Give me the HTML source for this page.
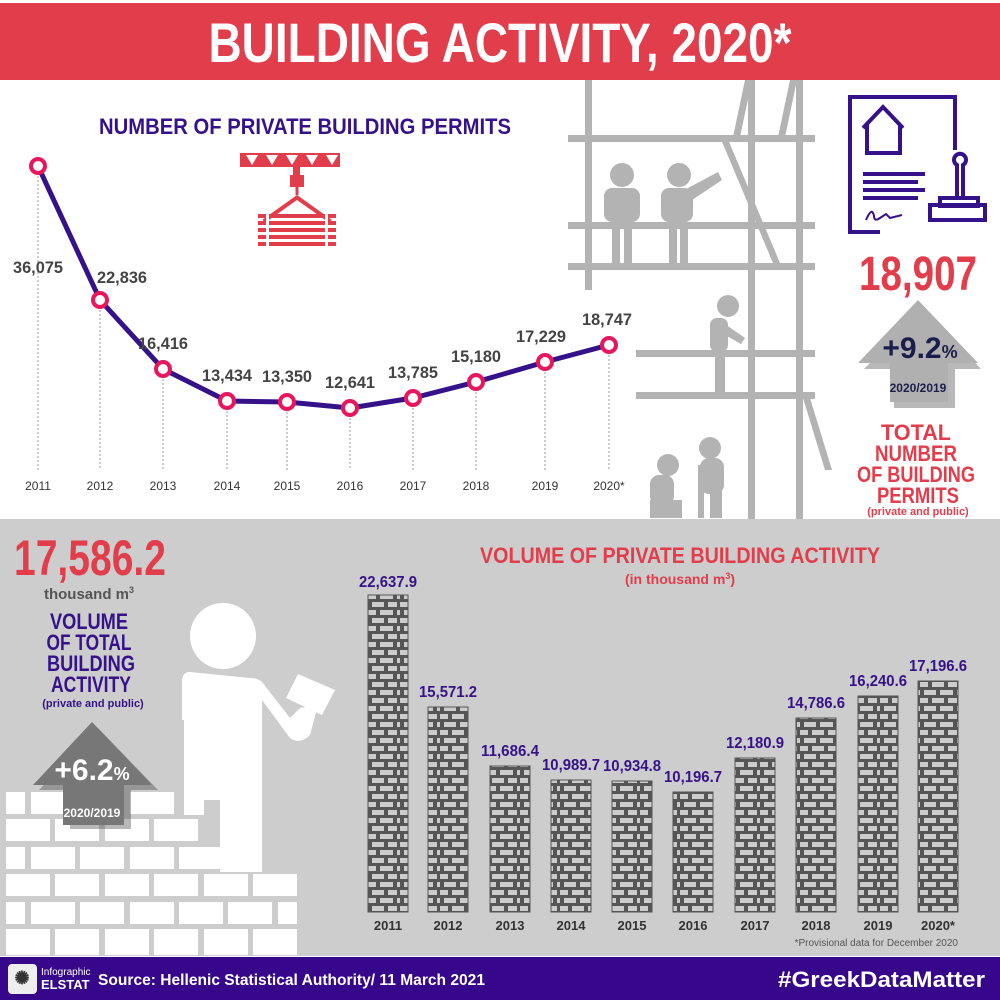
<!DOCTYPE html>
<html><head><meta charset="utf-8"><style>
html,body{margin:0;padding:0;background:#fff}
svg{display:block}
text{font-family:"Liberation Sans Narrow","Liberation Sans",sans-serif;font-weight:bold}
text.n{font-weight:normal}
</style></head><body>
<svg width="1000" height="1000" viewBox="0 0 1000 1000" xmlns="http://www.w3.org/2000/svg">
<defs>
<pattern id="brick" x="0" y="0" width="40" height="16" patternUnits="userSpaceOnUse">
<rect width="40" height="16" fill="#555"/>
<rect x="4" y="2" width="12" height="5" fill="#ccc"/><rect x="20" y="2" width="13" height="5" fill="#ccc"/><rect x="37" y="2" width="3" height="5" fill="#ccc"/>
<rect x="0" y="10" width="8" height="5" fill="#ccc"/><rect x="12" y="10" width="12" height="5" fill="#ccc"/><rect x="28" y="10" width="9" height="5" fill="#ccc"/>
</pattern>
</defs>
<rect width="1000" height="1000" fill="#fff"/>
<rect x="0" y="3" width="1000" height="77" fill="#e23d4b"/>
<text x="500" y="62" font-size="56" fill="#fff" text-anchor="middle" textLength="583" lengthAdjust="spacingAndGlyphs">BUILDING ACTIVITY, 2020*</text>

<g fill="#b3b3b3">
<rect x="585" y="80" width="7" height="210"/>
<rect x="748" y="80" width="7" height="440"/>
<rect x="796" y="80" width="7" height="440"/>
<rect x="568" y="135" width="247" height="7"/>
<rect x="568" y="222" width="247" height="7"/>
<rect x="568" y="263" width="247" height="7"/>
<rect x="636" y="350" width="179" height="7"/>
<rect x="636" y="392" width="179" height="7"/>
<polygon points="720,137 727,137 780,263 773,263"/>
<polygon points="745,80 752,80 740,137 733,137"/>
<polygon points="790,80 797,80 785,137 778,137"/>
<polygon points="803,398 810,398 832,470 825,470"/>
<circle cx="622" cy="175" r="12"/><rect x="604" y="188" width="36" height="34" rx="8"/><rect x="612" y="222" width="8" height="42"/><rect x="624" y="222" width="8" height="42"/>
<circle cx="679" cy="175" r="12"/><rect x="661" y="188" width="32" height="34" rx="8"/><rect x="669" y="222" width="8" height="42"/><rect x="680" y="222" width="8" height="42"/>
<polygon points="688,188 718,172 722,180 692,200"/>
<circle cx="728" cy="306" r="11"/><rect x="710" y="318" width="18" height="34" rx="7"/><polygon points="722,322 745,338 741,344 720,332"/><rect x="715" y="352" width="10" height="42"/>
<circle cx="668" cy="465" r="11"/><rect x="650" y="475" width="24" height="30" rx="9"/><rect x="650" y="500" width="32" height="18"/>
<circle cx="710" cy="448" r="11"/><rect x="700" y="458" width="24" height="36" rx="9"/><rect x="698" y="465" width="6" height="53"/><rect x="710" y="490" width="12" height="28"/>
</g>

<g fill="none" stroke="#36128a" stroke-width="4">
<polyline points="880,232 850,232 850,97 955,97 955,150"/>
<polyline points="863,128 883,107 903,128"/><polyline points="867,124 867,153 900,153 900,124"/>
<rect x="930" y="205" width="55" height="15"/><rect x="940" y="198" width="38" height="8"/>
<path d="M957,198 V165 a6,6 0 1 1 6,0 V198"/>
</g>
<g fill="#36128a"><rect x="863" y="172" width="62" height="4"/><rect x="863" y="180" width="55" height="4"/><rect x="863" y="188" width="62" height="4"/><rect x="863" y="196" width="55" height="4"/>
<path d="M866,220 q6,-14 8,-4 q0,6 6,2 l6,-4 l4,4 l12,-3" stroke="#36128a" stroke-width="2" fill="none"/></g>

<text x="918" y="290" font-size="48" fill="#e23d4b" text-anchor="middle" textLength="118" lengthAdjust="spacingAndGlyphs">18,907</text>
<polygon points="921,305 978,366 952,366 952,405 891,405 891,366 861,366" fill="#333" opacity="0.35" transform="translate(3,3)"/>
<polygon points="918,300 978,363 948,363 948,402 890,402 890,363 858,363" fill="#b0b0b0"/>
<text x="920" y="358" font-size="30" fill="#1c1d4a" text-anchor="middle">+9.2<tspan font-size="18">%</tspan></text>
<text x="918" y="392" font-size="12" fill="#1c1d4a" text-anchor="middle">2020/2019</text>
<g fill="#e23d4b" text-anchor="middle" font-size="22">
<text x="916" y="440" textLength="70" lengthAdjust="spacingAndGlyphs">TOTAL</text><text x="916" y="461" textLength="82" lengthAdjust="spacingAndGlyphs">NUMBER</text><text x="916" y="482" textLength="118" lengthAdjust="spacingAndGlyphs">OF BUILDING</text><text x="918" y="503" textLength="82" lengthAdjust="spacingAndGlyphs">PERMITS</text>
<text x="918" y="515" font-size="11">(private and public)</text></g>

<text x="305" y="134" font-size="22" fill="#36128a" text-anchor="middle" textLength="412" lengthAdjust="spacingAndGlyphs">NUMBER OF PRIVATE BUILDING PERMITS</text>
<g fill="#e23d4b">
<polygon points="240,153 340,153 340,167 240,167"/>
<polygon points="293,167 300,167 300,175 304,175 304,187 290,187 290,175 293,175"/>
<path d="M297,187 v8" stroke="#e23d4b" stroke-width="3"/>
<polygon points="297,195 262,220 266,222 297,200 328,222 332,220"/>
<g><rect x="258" y="214" width="78" height="4"/><rect x="258" y="221" width="78" height="4"/><rect x="258" y="228" width="78" height="4"/><rect x="258" y="235" width="78" height="4"/><rect x="258" y="242" width="78" height="4"/></g>
</g>
<g fill="#fff"><polygon points="246,155 258,155 252,165"/><polygon points="266,155 278,155 272,165"/><polygon points="286,155 298,155 292,165"/><polygon points="306,155 318,155 312,165"/><polygon points="326,155 338,155 332,165"/>
<rect x="266" y="214" width="3" height="32"/><rect x="325" y="214" width="3" height="32"/></g>

<g stroke="#999" stroke-width="1" stroke-dasharray="2,2">
<line x1="38" y1="172" x2="38" y2="470"/><line x1="100" y1="306" x2="100" y2="470"/><line x1="163" y1="375" x2="163" y2="470"/><line x1="227" y1="407" x2="227" y2="470"/><line x1="287" y1="408" x2="287" y2="470"/><line x1="350" y1="414" x2="350" y2="470"/><line x1="413" y1="404" x2="413" y2="470"/><line x1="476" y1="388" x2="476" y2="470"/><line x1="545" y1="368" x2="545" y2="470"/><line x1="609" y1="351" x2="609" y2="470"/>
</g>
<polyline points="38,166 100,300 163,369 227,401 287,402 350,408 413,398 476,382 545,362 609,345" fill="none" stroke="#36128a" stroke-width="5" stroke-linejoin="round"/>
<g fill="#fff" stroke="#e8175d" stroke-width="4">
<circle cx="38" cy="166" r="7"/><circle cx="100" cy="300" r="7"/><circle cx="163" cy="369" r="7"/><circle cx="227" cy="401" r="7"/><circle cx="287" cy="402" r="7"/><circle cx="350" cy="408" r="7"/><circle cx="413" cy="398" r="7"/><circle cx="476" cy="382" r="7"/><circle cx="545" cy="362" r="7"/><circle cx="609" cy="345" r="7"/>
</g>
<g fill="#444" font-size="17" text-anchor="middle">
<text x="38" y="273" textLength="50" lengthAdjust="spacingAndGlyphs">36,075</text><text x="122" y="283" textLength="50" lengthAdjust="spacingAndGlyphs">22,836</text><text x="163" y="349" textLength="50" lengthAdjust="spacingAndGlyphs">16,416</text><text x="227" y="381" textLength="50" lengthAdjust="spacingAndGlyphs">13,434</text><text x="287" y="382" textLength="50" lengthAdjust="spacingAndGlyphs">13,350</text><text x="350" y="388" textLength="50" lengthAdjust="spacingAndGlyphs">12,641</text><text x="413" y="378" textLength="50" lengthAdjust="spacingAndGlyphs">13,785</text><text x="476" y="362" textLength="50" lengthAdjust="spacingAndGlyphs">15,180</text><text x="541" y="342" textLength="50" lengthAdjust="spacingAndGlyphs">17,229</text><text x="607" y="325" textLength="50" lengthAdjust="spacingAndGlyphs">18,747</text>
</g>
<g fill="#333" font-size="12" text-anchor="middle">
<text class="n" x="38" y="490">2011</text><text class="n" x="100" y="490">2012</text><text class="n" x="163" y="490">2013</text><text class="n" x="227" y="490">2014</text><text class="n" x="287" y="490">2015</text><text class="n" x="350" y="490">2016</text><text class="n" x="413" y="490">2017</text><text class="n" x="476" y="490">2018</text><text class="n" x="545" y="490">2019</text><text class="n" x="609" y="490">2020*</text>
</g>

<rect x="0" y="519" width="1000" height="437" fill="#cdcdcd"/>
<text x="90" y="575" font-size="50" fill="#e23d4b" text-anchor="middle" textLength="152" lengthAdjust="spacingAndGlyphs">17,586.2</text>
<text x="89" y="599" font-size="15" fill="#555" text-anchor="middle">thousand m<tspan font-size="9" dy="-6">3</tspan></text>
<g fill="#36128a" font-size="22" text-anchor="middle">
<text x="89" y="629" textLength="78" lengthAdjust="spacingAndGlyphs">VOLUME</text><text x="89" y="650" textLength="85" lengthAdjust="spacingAndGlyphs">OF TOTAL</text><text x="91" y="671" textLength="88" lengthAdjust="spacingAndGlyphs">BUILDING</text><text x="91" y="692" textLength="80" lengthAdjust="spacingAndGlyphs">ACTIVITY</text>
<text x="93" y="707" font-size="11">(private and public)</text></g>

<g fill="#fff">
<rect x="6" y="792" width="19" height="22"/><rect x="31" y="792" width="44" height="22"/><rect x="80" y="792" width="44" height="22"/><rect x="130" y="792" width="44" height="22"/>
<rect x="6" y="819" width="44" height="22"/><rect x="55" y="819" width="44" height="22"/><rect x="105" y="819" width="44" height="22"/><rect x="154" y="819" width="44" height="22"/>
<rect x="6" y="847" width="19" height="22"/><rect x="31" y="847" width="44" height="22"/><rect x="80" y="847" width="44" height="22"/><rect x="130" y="847" width="44" height="22"/><rect x="179" y="847" width="44" height="22"/>
<rect x="6" y="874" width="44" height="22"/><rect x="55" y="874" width="44" height="22"/><rect x="105" y="874" width="44" height="22"/><rect x="154" y="874" width="44" height="22"/><rect x="204" y="874" width="44" height="22"/><rect x="253" y="874" width="44" height="22"/>
<rect x="6" y="902" width="19" height="22"/><rect x="31" y="902" width="44" height="22"/><rect x="80" y="902" width="44" height="22"/><rect x="130" y="902" width="44" height="22"/><rect x="179" y="902" width="44" height="22"/><rect x="228" y="902" width="44" height="22"/><rect x="278" y="902" width="19" height="22"/>
<rect x="6" y="929" width="44" height="26"/><rect x="55" y="929" width="44" height="26"/><rect x="105" y="929" width="44" height="26"/><rect x="154" y="929" width="44" height="26"/><rect x="204" y="929" width="44" height="26"/><rect x="253" y="929" width="44" height="26"/>
<circle cx="223" cy="636" r="33"/>
<path d="M190,672 Q182,672 182,682 V720 H184 V815 H204 V800 H220 V872 H262 V700 L290,738 Q300,745 310,735 L318,705 L300,708 L290,718 L262,682 Q258,678 250,678 Z"/>
<polygon points="298,674 335,690 322,715 286,698"/>
</g>
<polygon points="95,725 155,787 128,787 128,826 67,826 67,787 36,787" fill="#333" opacity="0.35" transform="translate(3,3)"/>
<polygon points="92,722 152,785 124,785 124,825 63,825 63,785 33,785" fill="#777"/>
<text x="92" y="780" font-size="30" fill="#fff" text-anchor="middle">+6.2<tspan font-size="18">%</tspan></text>
<text x="92" y="817" font-size="12" fill="#fff" text-anchor="middle">2020/2019</text>

<text x="680" y="563" font-size="22" fill="#e23d4b" text-anchor="middle" textLength="400" lengthAdjust="spacingAndGlyphs">VOLUME OF PRIVATE BUILDING ACTIVITY</text>
<text x="680" y="584" font-size="14" fill="#e23d4b" text-anchor="middle">(in thousand m<tspan font-size="9" dy="-5">3</tspan><tspan dy="5">)</tspan></text>
<g stroke="#555" stroke-width="1">
<rect x="368" y="595" width="40" height="317" fill="url(#brick)"/>
<rect x="428" y="707" width="40" height="205" fill="url(#brick)"/>
<rect x="490" y="766" width="40" height="146" fill="url(#brick)"/>
<rect x="551" y="780" width="40" height="132" fill="url(#brick)"/>
<rect x="612" y="781" width="40" height="131" fill="url(#brick)"/>
<rect x="673" y="792" width="40" height="120" fill="url(#brick)"/>
<rect x="735" y="758" width="40" height="154" fill="url(#brick)"/>
<rect x="796" y="718" width="40" height="194" fill="url(#brick)"/>
<rect x="858" y="696" width="40" height="216" fill="url(#brick)"/>
<rect x="918" y="681" width="40" height="231" fill="url(#brick)"/>
</g>
<g fill="#36128a" font-size="16" text-anchor="middle">
<text x="388" y="587" textLength="58" lengthAdjust="spacingAndGlyphs">22,637.9</text><text x="448" y="697" textLength="58" lengthAdjust="spacingAndGlyphs">15,571.2</text><text x="510" y="756" textLength="58" lengthAdjust="spacingAndGlyphs">11,686.4</text><text x="571" y="770" textLength="58" lengthAdjust="spacingAndGlyphs">10,989.7</text><text x="632" y="771" textLength="58" lengthAdjust="spacingAndGlyphs">10,934.8</text><text x="693" y="782" textLength="58" lengthAdjust="spacingAndGlyphs">10,196.7</text><text x="755" y="748" textLength="58" lengthAdjust="spacingAndGlyphs">12,180.9</text><text x="816" y="708" textLength="58" lengthAdjust="spacingAndGlyphs">14,786.6</text><text x="878" y="686" textLength="58" lengthAdjust="spacingAndGlyphs">16,240.6</text><text x="938" y="671" textLength="58" lengthAdjust="spacingAndGlyphs">17,196.6</text>
</g>
<g fill="#333" font-size="13" text-anchor="middle">
<text x="388" y="930">2011</text><text x="448" y="930">2012</text><text x="510" y="930">2013</text><text x="571" y="930">2014</text><text x="632" y="930">2015</text><text x="693" y="930">2016</text><text x="755" y="930">2017</text><text x="816" y="930">2018</text><text x="878" y="930">2019</text><text x="938" y="930">2020*</text>
</g>
<text class="n" x="958" y="946" font-size="10" fill="#555" text-anchor="end">*Provisional data for December 2020</text>

<rect x="0" y="957" width="1000" height="43" fill="#36078a"/>
<rect x="8" y="964" width="29" height="30" rx="4" fill="#eee"/>
<text x="22" y="984" font-size="18" fill="#333" text-anchor="middle">✺</text>
<text class="n" x="41" y="975" font-size="10" fill="#fff">Infographic</text>
<text x="41" y="989" font-size="13" fill="#fff">ELSTAT</text>
<text x="98" y="985" font-size="16" fill="#fff" style="font-family:'Liberation Sans',sans-serif" textLength="387" lengthAdjust="spacingAndGlyphs">Source: Hellenic Statistical Authority/ 11 March 2021</text>
<text x="985" y="987" font-size="22" fill="#fff" text-anchor="end" style="font-family:'Liberation Sans',sans-serif" textLength="207" lengthAdjust="spacingAndGlyphs">#GreekDataMatter</text>
</svg>
</body></html>
